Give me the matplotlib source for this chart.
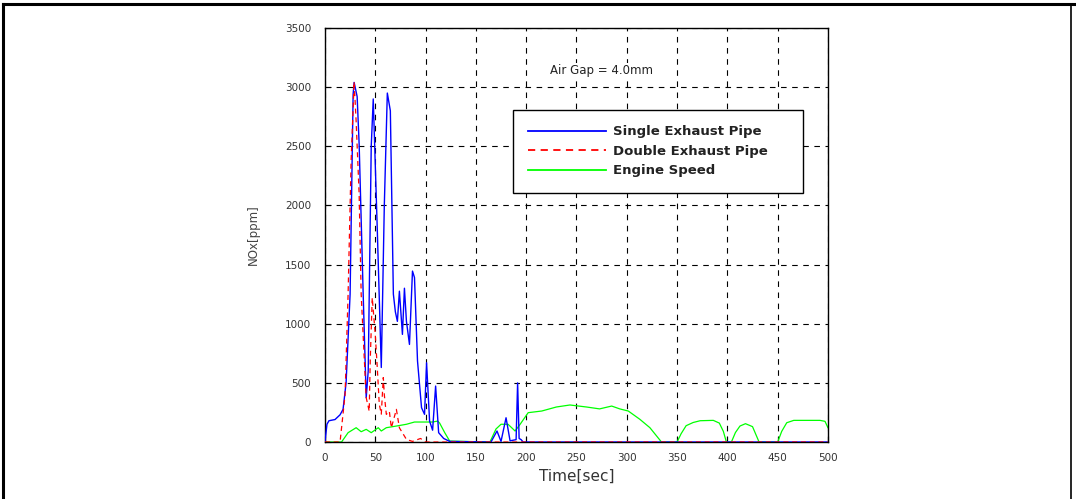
import matplotlib
matplotlib.use("Agg")
import matplotlib.pyplot as plt
from matplotlib.lines import Line2D

plt.rcParams['font.family'] = ['DejaVu Sans']

# NOx, single exhaust pipe
single_t = [0, 2, 4, 10, 15, 18, 21, 25, 28, 29, 32, 34, 38, 41, 43, 46, 48, 52, 56,
            59, 62, 65, 68, 70, 72, 74, 77, 79, 81, 84, 87, 89, 92, 96, 99, 101, 104,
            107, 110, 113, 118, 124, 165, 171, 175, 180, 184, 190, 191.5, 193, 195,
            197, 500]
single_v = [0, 150, 180, 190, 230, 276, 500, 1250, 2940, 3040, 2920, 2515, 1250, 375,
            600, 2500, 2900, 1800, 630, 2000, 2950, 2800, 1250, 1100, 1020, 1275, 910,
            1300, 1020, 825, 1445, 1390, 685, 290, 234, 670, 177, 100, 473, 79, 30, 5,
            0, 93, 5, 205, 10, 20, 500, 30, 20, 0, 0]

# NOx, double exhaust pipe
double_t = [0, 15, 20, 23, 26, 29, 31, 34, 36, 40, 41, 44, 45, 47, 50, 52, 54, 56, 58,
            59, 61, 64, 66, 71, 74, 81, 87, 95, 100, 500]
double_v = [0, 0, 400, 1250, 2375, 3045, 2710, 2090, 1250, 545, 375, 260, 685, 1220,
            910, 630, 320, 235, 545, 400, 234, 260, 120, 276, 120, 22, 5, 30, 0, 0]

# engine speed (drawn on the same scale)
speed_t = [0, 16.5, 23, 31, 36, 41, 46, 53, 56, 61, 71, 81, 89, 107, 112, 114, 119, 124,
           164, 170, 175, 182, 189, 194, 202, 215.5, 230, 243.5, 260, 273, 285, 293,
           301.5, 313, 323, 334.5, 350, 354, 359, 366, 373, 386, 392, 396, 399, 404,
           408, 412.5, 418, 425, 431.5, 450, 454, 459, 466, 492, 497, 500]
speed_v = [0, 0, 79, 121, 87, 107, 79, 121, 93, 121, 135, 150, 169, 169, 177, 160, 80, 8,
           0, 110, 150, 150, 93, 150, 248, 262, 296, 313, 296, 280, 304, 280,
           262, 192, 121, 0, 0, 70, 138, 165, 180, 183, 160, 90, 0, 0,
           80, 135, 155, 130, 0, 0, 90, 163, 183, 183, 175, 121]

x_ticks = [0, 50, 100, 150, 200, 250, 300, 350, 400, 450, 500]
y_ticks = [0, 500, 1000, 1500, 2000, 2500, 3000, 3500]

fig = plt.figure(figsize=(10.76, 4.99), dpi=100)
ax = fig.add_axes([0.3020, 0.1142, 0.4675, 0.8297])

ax.plot(speed_t, speed_v, color='#00ff00', lw=0.9, label='Engine Speed', zorder=2)
ax.plot(single_t, single_v, color='#0000ff', lw=1.0, label='Single Exhaust Pipe', zorder=3)
ax.plot(double_t, double_v, color='#ff0000', lw=0.9, ls=(0, (4, 3)),
        label='Double Exhaust Pipe', zorder=4)

ax.set_xlim(0, 500)
ax.set_ylim(0, 3500)
ax.set_xticks(x_ticks)
ax.set_yticks(y_ticks)
ax.tick_params(direction='in', length=4, width=0.8, labelsize=7.5,
               labelcolor='#333333')
ax.tick_params(axis='y', pad=10)
ax.tick_params(axis='x', pad=8)
ax.grid(True, color='black', ls=(0, (5, 5)), lw=0.8)
for s in ax.spines.values():
    s.set_linewidth(1.0)

ax.set_xlabel('Time[sec]', fontsize=11, color='#333333', labelpad=4)
ax.set_ylabel('NOx[ppm]', fontsize=8.5, color='#444444', labelpad=18)

ax.text(224, 3140, 'Air Gap = 4.0mm', fontsize=8.5, color='#222222', va='center',
        bbox=dict(facecolor='white', edgecolor='none', pad=1))

handles = [Line2D([], [], color='#0000ff', lw=1.3),
           Line2D([], [], color='#ff0000', lw=1.3, ls=(0, (4, 3))),
           Line2D([], [], color='#00ff00', lw=1.3)]
labels = ['Single Exhaust Pipe', 'Double Exhaust Pipe', 'Engine Speed']
leg = ax.legend(handles, labels, loc='upper left', mode='expand',
                bbox_to_anchor=(0.374, 0.601, 0.576, 0.201),
                borderaxespad=0, fancybox=False, edgecolor='black', framealpha=1,
                handlelength=5.9, handletextpad=0.55, labelspacing=0.5,
                borderpad=1.15, prop={'size': 9.5, 'weight': 'bold'})
leg.get_frame().set_linewidth(1.0)
for t in leg.get_texts():
    t.set_color('#222222')

# outer frame of the picture
fig.add_artist(Line2D([3 / 1076, 3 / 1076], [0, 1 - 4 / 499], color='black', lw=2.2,
                      transform=fig.transFigure))
fig.add_artist(Line2D([3 / 1076, 1], [1 - 4 / 499, 1 - 4 / 499], color='black', lw=2.2,
                      transform=fig.transFigure))
fig.add_artist(Line2D([1071 / 1076, 1071 / 1076], [0, 1 - 4 / 499], color='black',
                      lw=1.2, transform=fig.transFigure))

fig.savefig('out.png', dpi=100)
